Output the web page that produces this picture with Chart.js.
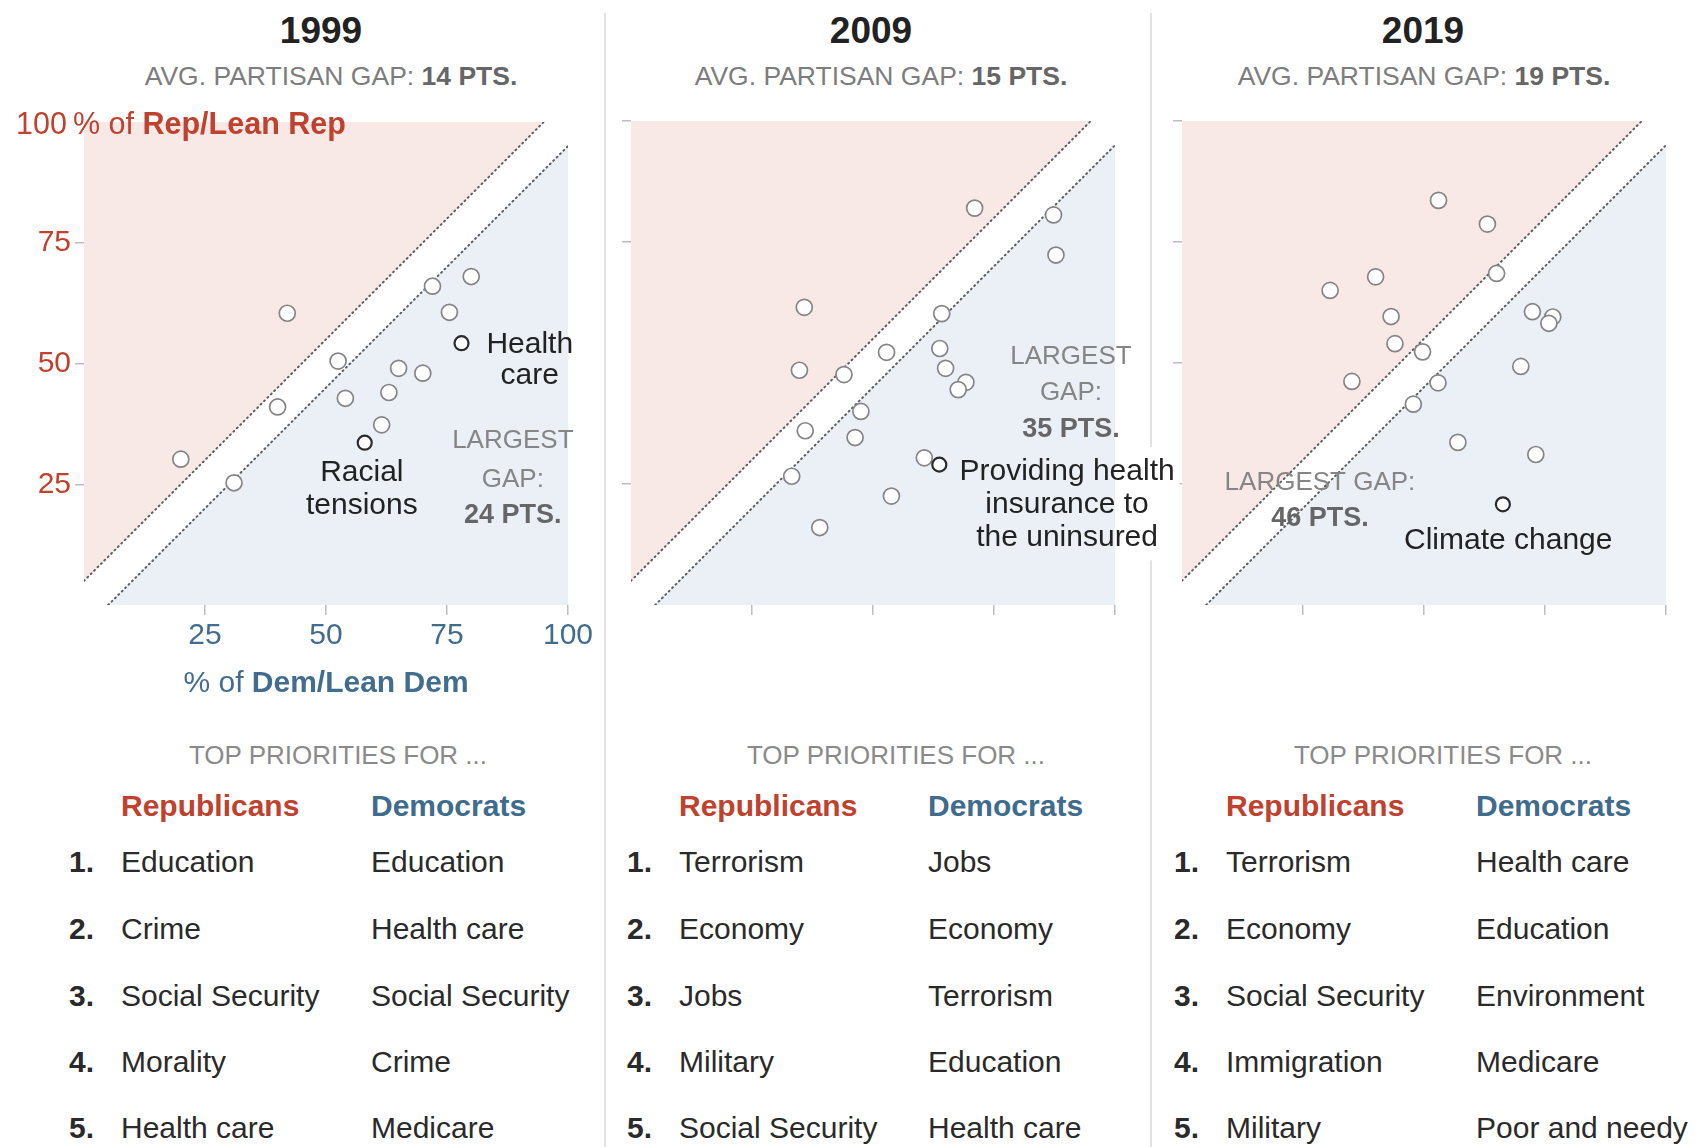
<!DOCTYPE html>
<html>
<head>
<meta charset="utf-8">
<script src="https://cdn.jsdelivr.net/npm/chart.js@4.4.1/dist/chart.umd.min.js"></script>
<style>
  body { margin:0; width:1695px; height:1147px; background:#fff; position:relative; overflow:hidden;
         font-family:"Liberation Sans", Arial, sans-serif; }
  .abs { position:absolute; white-space:nowrap; line-height:1; }
  .sep { position:absolute; top:13px; bottom:0; width:2px; background:#e2e2e2; }
  canvas { position:absolute; left:0; top:100px; }
  .year { font-weight:bold; font-size:37px; color:#222; }
  .sub { font-size:26.5px; color:#7d7d7d; }
  .sub b { color:#666; }
  .top { font-size:26px; color:#8a8a8a; }
  .rep { font-size:30px; font-weight:bold; color:#c0412e; }
  .dem { font-size:30px; font-weight:bold; color:#3f6c8c; }
  .num { font-size:30px; font-weight:bold; color:#2a2a2a; }
  .item { font-size:30px; color:#2a2a2a; }
  .axr { font-size:30.5px; color:#c0412e; }
  .axd { font-size:30px; color:#436d8c; }
</style>
</head>
<body>
<div class="sep" style="left:604px"></div>
<div class="sep" style="left:1150px"></div>
<canvas id="c1999" width="1695" height="620"></canvas>
<canvas id="c2019" width="1695" height="620"></canvas>
<canvas id="c2009" width="1695" height="620"></canvas>
<script>
const years = ['1999', '2009', '2019'];
const avgGap = [14, 15, 19];
const largestGap = [24, 35, 46];

// % of Dem/Lean Dem (x) and % of Rep/Lean Rep (y) calling each issue a top priority
const dem1999 = [42, 72, 80, 75.5, 78, 52.5, 65, 70, 63, 54, 40, 61.5, 58, 20, 31];
const rep1999 = [60.4, 66, 68, 60.6, 54.2, 50.5, 49, 48, 44, 42.8, 41, 37.3, 33.6, 30.2, 25.3];
const dem2009 = [71, 87.3, 87.8, 35.8, 64.2, 52.8, 63.8, 34.8, 44, 65, 69.2, 67.6, 47.5, 36, 46.3, 60.6, 63.7, 33.2, 53.8, 39];
const rep2009 = [82, 80.6, 72.3, 61.5, 60.2, 52.2, 53, 48.5, 47.6, 48.9, 46, 44.5, 40, 36, 34.6, 30.4, 29, 26.6, 22.5, 16];
const dem2019 = [53, 63.1, 65, 40, 30.6, 43.2, 72.4, 76.6, 75.8, 44, 49.7, 70, 35.1, 52.9, 47.8, 57, 73.1, 66.3];
const rep2019 = [83.6, 78.7, 68.5, 67.8, 65, 59.6, 60.6, 59.5, 58.2, 54, 52.3, 49.3, 46.2, 45.9, 41.5, 33.6, 31.1, 20.8];

// labelled issues (index into the arrays above)
const highlight1999 = [4, 12];   // Health care, Racial tensions
const highlight2009 = [16];      // Providing health insurance to the uninsured
const highlight2019 = [17];      // Climate change

const bandHalf = 5;              // dotted parity band: y = x +/- 5
const xTicks = [25, 50, 75, 100];
const yTicks1999 = [25, 50, 75];
const yTicks2009 = [25, 75, 100];
const yTicks2019 = [25, 50, 75, 100];

const repTop1999 = ['Education', 'Crime', 'Social Security', 'Morality', 'Health care'];
const demTop1999 = ['Education', 'Health care', 'Social Security', 'Crime', 'Medicare'];
const repTop2009 = ['Terrorism', 'Economy', 'Jobs', 'Military', 'Social Security'];
const demTop2009 = ['Jobs', 'Economy', 'Terrorism', 'Education', 'Health care'];
const repTop2019 = ['Terrorism', 'Economy', 'Social Security', 'Immigration', 'Military'];
const demTop2019 = ['Health care', 'Education', 'Environment', 'Medicare', 'Poor and needy'];

const FONT = '"Liberation Sans", Arial, sans-serif';
const RED = '#c0412e';
const BLUE_TXT = '#436d8c';
const PINK = '#f8e9e6';
const BLUE_BG = '#ebf0f6';
const DOT = '#5e5e5e';
const GRAY = '#858585';
const DARK = '#222';

Chart.defaults.font.family = FONT;

// plot area left edges on the page; every plot is 484px square
const plotLeft = [84, 631, 1182];
const plotSize = 484;

const notesPlugin = {
  id: 'notes',
  afterDatasetsDraw(chart, args, opts) {
    const {ctx, chartArea} = chart;
    const xs = chart.scales.x, ys = chart.scales.y;
    ctx.save();
    ctx.textAlign = 'center';
    ctx.textBaseline = 'middle';
    (opts.items || []).forEach(n => {
      const px = xs.getPixelForValue(n.x);
      if (n.box) {
        let w = 0;
        n.lines.forEach(l => {
          ctx.font = (l.bold ? 'bold ' : '') + l.size + 'px ' + FONT;
          w = Math.max(w, ctx.measureText(l.text).width);
        });
        const t = ys.getPixelForValue(n.lines[0].y) - 25;
        const b = ys.getPixelForValue(n.lines[n.lines.length - 1].y) + 23;
        ctx.fillStyle = '#fff';
        ctx.fillRect(chartArea.right + 1, t, px + w / 2 + 4 - chartArea.right, b - t);
      }
      n.lines.forEach(l => {
        ctx.font = (l.bold ? 'bold ' : '') + l.size + 'px ' + FONT;
        ctx.fillStyle = l.color;
        ctx.fillText(l.text, px, ys.getPixelForValue(l.y));
      });
    });
    ctx.restore();
  }
};

function gapLines(ys, gap) {
  return [
    {text: 'LARGEST', y: ys[0], size: 26, color: GRAY},
    {text: 'GAP:', y: ys[1], size: 26, color: GRAY},
    {text: gap + ' PTS.', y: ys[2], size: 27, bold: true, color: '#666'}
  ];
}

const notes = [
  [
    {x: 92.1, lines: [{text: 'Health', y: 53.9, size: 30, color: DARK}, {text: 'care', y: 47.5, size: 30, color: DARK}]},
    {x: 57.4, lines: [{text: 'Racial', y: 27.3, size: 30, color: DARK}, {text: 'tensions', y: 20.5, size: 30, color: DARK}]},
    {x: 88.6, lines: gapLines([33.9, 26.0, 18.6], largestGap[0])}
  ],
  [
    {x: 90.9, lines: gapLines([51.2, 43.8, 36.2], largestGap[1])},
    {x: 90.1, box: true, lines: [
      {text: 'Providing health', y: 27.5, size: 30, color: DARK},
      {text: 'insurance to', y: 20.7, size: 30, color: DARK},
      {text: 'the uninsured', y: 14.0, size: 30, color: DARK}]}
  ],
  [
    {x: 28.5, lines: [{text: 'LARGEST GAP:', y: 25.2, size: 26, color: GRAY},
                      {text: largestGap[2] + ' PTS.', y: 17.8, size: 27, bold: true, color: '#666'}]},
    {x: 67.4, lines: [{text: 'Climate change', y: 13.2, size: 30, color: DARK}]}
  ]
];

function buildChart(id, i, dem, rep, highlight, yTicks) {
  const left = plotLeft[i];
  const pts = dem.map((d, k) => ({x: d, y: rep[k]}));
  new Chart(document.getElementById(id), {
    type: 'scatter',
    data: {
      datasets: [
        {
          data: pts,
          pointRadius: ctx => highlight.includes(ctx.dataIndex) ? 7 : 8,
          pointBorderWidth: ctx => highlight.includes(ctx.dataIndex) ? 2.2 : 1.7,
          pointBorderColor: ctx => highlight.includes(ctx.dataIndex) ? '#2b2b2b' : '#858585',
          pointBackgroundColor: '#fff'
        },
        {
          type: 'line',
          data: [{x: 0, y: bandHalf}, {x: 100 - bandHalf, y: 100}],
          fill: 'end', backgroundColor: PINK,
          borderColor: DOT, borderWidth: 2, borderDash: [1, 3.8], borderCapStyle: 'round',
          pointRadius: 0
        },
        {
          type: 'line',
          data: [{x: bandHalf, y: 0}, {x: 100, y: 100 - bandHalf}],
          fill: 'start', backgroundColor: BLUE_BG,
          borderColor: DOT, borderWidth: 2, borderDash: [1, 3.8], borderCapStyle: 'round',
          pointRadius: 0
        }
      ]
    },
    options: {
      responsive: false, animation: false, devicePixelRatio: 1,
      layout: {padding: {left: left - 60, right: 1695 - left - plotSize, top: 21, bottom: 0}},
      plugins: {legend: {display: false}, tooltip: {enabled: false}, notes: {items: notes[i]}},
      scales: {
        x: {
          type: 'linear', min: 0, max: 100,
          afterFit: s => { s.height = 115; },
          border: {display: false},
          grid: {drawOnChartArea: false, tickLength: 10, lineWidth: 1.5,
                 color: ctx => xTicks.includes(ctx.tick && ctx.tick.value) ? '#bdbdbd' : 'rgba(0,0,0,0)'},
          ticks: {stepSize: 25, display: i === 0, padding: 3, color: BLUE_TXT, font: {size: 30},
                  callback: v => xTicks.includes(v) ? v : ''}
        },
        y: {
          min: 0, max: 100,
          afterFit: s => { s.width = 60; },
          border: {display: false},
          grid: {drawOnChartArea: false, tickLength: 9, lineWidth: 1.5,
                 color: ctx => yTicks.includes(ctx.tick && ctx.tick.value) ? '#bdbdbd' : 'rgba(0,0,0,0)'},
          ticks: {stepSize: 25, display: i === 0, padding: 4, color: RED, font: {size: 30},
                  callback: v => yTicks1999.includes(v) ? v : ''}
        }
      }
    },
    plugins: [notesPlugin]
  });
}

buildChart('c1999', 0, dem1999, rep1999, highlight1999, yTicks1999);
buildChart('c2019', 2, dem2019, rep2019, highlight2019, yTicks2019);
buildChart('c2009', 1, dem2009, rep2009, highlight2009, yTicks2009);

// titles, axis captions and the priority lists
function addText(html, left, top, cls, center) {
  const d = document.createElement('div');
  d.className = 'abs ' + cls;
  d.innerHTML = html;
  d.style.left = left + 'px';
  d.style.top = top + 'px';
  if (center) d.style.transform = 'translateX(-50%)';
  document.body.appendChild(d);
}

const titleX = [321, 871, 1423];
const subX = [331, 881, 1424];
const topX = [338, 896, 1443];
const numX = [69, 627, 1174];
const repX = [121, 679, 1226];
const demX = [371, 928, 1476];
const rowTop = [847, 914, 981, 1047, 1113];
const repTops = [repTop1999, repTop2009, repTop2019];
const demTops = [demTop1999, demTop2009, demTop2019];

years.forEach((yr, i) => {
  addText(yr, titleX[i], 12, 'year', true);
  addText('AVG. PARTISAN GAP: <b>' + avgGap[i] + ' PTS.</b>', subX[i], 63, 'sub', true);
  addText('TOP PRIORITIES FOR ...', topX[i], 742, 'top', true);
  addText('Republicans', repX[i], 791, 'rep', false);
  addText('Democrats', demX[i], 791, 'dem', false);
  rowTop.forEach((t, k) => {
    addText((k + 1) + '.', numX[i], t, 'num', false);
    addText(repTops[i][k], repX[i], t, 'item', false);
    addText(demTops[i][k], demX[i], t, 'item', false);
  });
});
addText('100\u2009% of <b>Rep/Lean Rep</b>', 16, 108, 'axr', false);
addText('% of <b>Dem/Lean Dem</b>', 326, 667, 'axd', true);
</script>
</body>
</html>
